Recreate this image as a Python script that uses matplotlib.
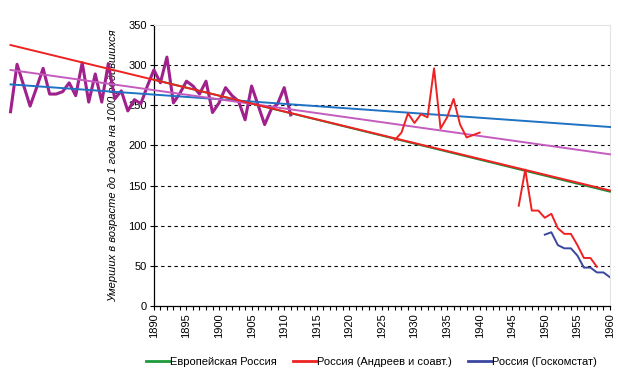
import matplotlib
matplotlib.use("Agg")
import matplotlib.pyplot as plt
from matplotlib.ticker import MultipleLocator

plt.rcParams['font.family'] = ['Liberation Sans', 'DejaVu Sans']

# European Russia, 1868-1911 (purple heavy line)
euro_years = list(range(1868, 1912))
euro_vals = [242, 301, 275, 249, 272, 296, 264, 264, 267, 278,
             262, 303, 254, 289, 254, 302, 258, 268, 243, 257,
             252, 274, 294, 278, 310, 253, 265, 280, 274, 264,
             280, 241, 253, 272, 262, 255, 232, 274, 250, 226,
             245, 252, 272, 238]

# Russia (Andreev et al.)
andr_years_a = list(range(1927, 1941))
andr_vals_a = [207, 216, 240, 228, 239, 235, 296, 221, 235, 258, 226, 210, 213, 216]
andr_years_b = list(range(1946, 1959))
andr_vals_b = [125, 170, 119, 119, 110, 115, 97, 90, 90, 76, 60, 60, 49]

# Russia (Goskomstat)
gks_years = list(range(1950, 1961))
gks_vals = [89, 92, 76, 72, 72, 63, 48, 48, 42, 42, 36]

# linear trends, start and end values
trend_years = [1868, 1960]
trend_red = [325, 144]
trend_pink = [294, 189]
trend_blue = [276, 223]
trend_green_years = [1890, 1960]
trend_green = [282, 142.5]

legend_labels = ['Европейская Россия', 'Россия (Андреев и соавт.)', 'Россия (Госкомстат)']

fig = plt.figure(figsize=(6.18, 3.78), dpi=100)
ax = fig.add_axes([0.249, 0.190, 0.738, 0.744])

ax.plot(euro_years, euro_vals, color='#a0208c', lw=2.2, clip_on=False, zorder=3)
ax.plot(trend_green_years, trend_green, color='#1e8c3a', lw=1.4, clip_on=False, zorder=4)
ax.plot(trend_years, trend_blue, color='#1f72c4', lw=1.4, clip_on=False, zorder=4)
ax.plot(trend_years, trend_pink, color='#c45cc0', lw=1.4, clip_on=False, zorder=4)
ax.plot(trend_years, trend_red, color='#ee2222', lw=1.4, clip_on=False, zorder=5)
ax.plot(andr_years_a, andr_vals_a, color='#ee2222', lw=1.4, zorder=5)
ax.plot(andr_years_b, andr_vals_b, color='#ee2222', lw=1.4, zorder=5)
ax.plot(gks_years, gks_vals, color='#3a46a0', lw=1.4, zorder=5)

# legend handles
h1, = ax.plot([], [], color='#1e9a3a', lw=2)
h2, = ax.plot([], [], color='#ee2222', lw=2)
h3, = ax.plot([], [], color='#3a46a0', lw=2)
fig.legend([h1, h2, h3], legend_labels, loc='center', bbox_to_anchor=(0.601, 0.042),
           ncol=3, frameon=False, fontsize=8, handlelength=2.2, handletextpad=0.0,
           columnspacing=1.4, borderpad=0)

ax.set_xlim(1890, 1960)
ax.set_ylim(0, 350)
ax.xaxis.set_major_locator(MultipleLocator(5))
ax.xaxis.set_minor_locator(MultipleLocator(1))
ax.yaxis.set_major_locator(MultipleLocator(50))
ax.tick_params(axis='x', which='both', direction='out', length=3, width=0.8,
               labelsize=8, rotation=90, pad=2)
ax.tick_params(axis='y', direction='out', length=3, width=0.8, labelsize=8, pad=2)

for y in range(50, 350, 50):
    ax.axhline(y, color='black', lw=0.8, ls=(0, (3, 3)), zorder=1)

for side in ['top', 'right']:
    ax.spines[side].set_color('#e4e4e4')
for side in ['left', 'bottom']:
    ax.spines[side].set_linewidth(0.9)

ax.set_ylabel('Умерших в возрасте до 1 года на 1000 родившихся', fontsize=8.0,
              style='italic')
ax.yaxis.set_label_coords(-0.078, 0.5)
ax.yaxis.label.set_zorder(10)

fig.savefig('out.png', dpi=100)
